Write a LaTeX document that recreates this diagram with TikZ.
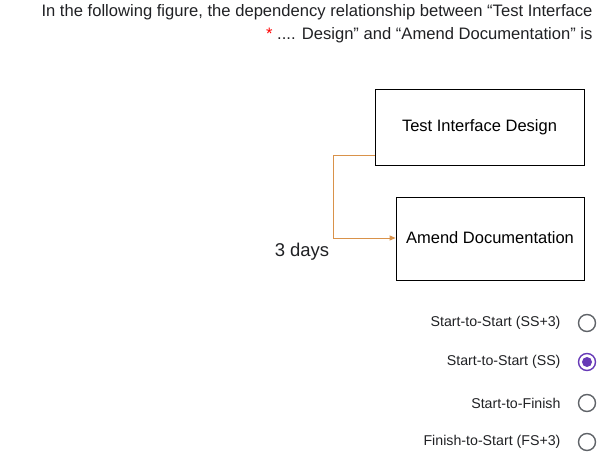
\documentclass[tikz,border=0pt]{standalone}
\usepackage{fontspec}
\setmainfont{Liberation Sans}
\usetikzlibrary{arrows.meta}
\definecolor{conn}{HTML}{D9924A}
\definecolor{radio}{HTML}{5F6368}
\definecolor{sel}{HTML}{673AB7}
\definecolor{txt}{HTML}{202124}
\tikzset{
  taskbox/.style={draw=black,line width=0.8pt,inner sep=0pt},
  tasktext/.style={font=\fontsize{16.5}{18}\selectfont,text=black},
  opt/.style={anchor=east,font=\fontsize{14.2}{16}\selectfont,text=txt},
  rbtn/.style={circle,draw=radio,line width=1.4pt,minimum size=17pt,inner sep=0pt},
  hdr/.style={anchor=east,font=\fontsize{16.6}{18}\selectfont,text=txt},
}
\begin{document}
\begin{tikzpicture}[x=1pt,y=-1pt]
\useasboundingbox (0,0) rectangle (602,470);
\node[hdr] (h1) at (596,12) {In the following figure, the dependency relationship between “Test Interface};
\node[hdr] (h2) at (596,35) {{\color{red}*} .... Design” and “Amend Documentation” is};
\node[taskbox,minimum width=209pt,minimum height=76pt] (b1) at (479.5,127) {};
\node[tasktext] (t1) at (479.5,127) {Test Interface Design};
\node[taskbox,minimum width=188pt,minimum height=83pt] (b2) at (490,238.5) {};
\node[tasktext] (t2) at (490,238) {Amend Documentation};
\coordinate (c1) at (333,155);
\coordinate (c2) at (333,238);
\draw[conn,line width=0.8pt,-{Triangle[length=6pt,width=5pt]}] (b1.west |- c1) -- (c1) -- (c2) -- (b2.west |- c2);
\node[font=\fontsize{18.5}{20}\selectfont,text=txt] (days) at (302,252) {3 days};
\node[rbtn] (r1) at (587,323) {};
\node[rbtn,draw=sel] (r2) at (587,362) {};
\fill[sel] (r2) circle (5pt);
\node[rbtn] (r3) at (587,403) {};
\node[rbtn] (r4) at (587,442) {};
\node[opt] at (564,323) {Start-to-Start (SS+3)};
\node[opt] at (564,362) {Start-to-Start (SS)};
\node[opt] at (564,403) {Start-to-Finish};
\node[opt] at (564,442) {Finish-to-Start (FS+3)};
\end{tikzpicture}
\end{document}
